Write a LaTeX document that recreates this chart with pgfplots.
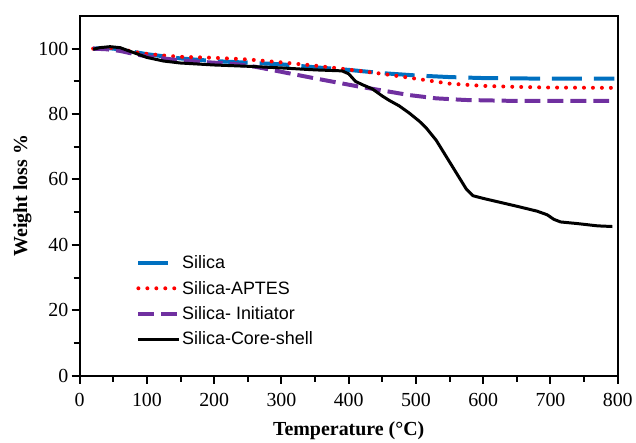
\documentclass[border=0pt]{standalone}
\usepackage{pgfplots}
\pgfplotsset{compat=1.18}
\usepackage{fontspec}
\setmainfont{Liberation Serif}
\newfontfamily\arial{Liberation Sans}
\definecolor{cblue}{HTML}{0070C0}
\definecolor{cpurple}{HTML}{7030A0}
\begin{document}
\begin{tikzpicture}
\begin{axis}[
  scale only axis, width=540pt, height=361pt,
  xmin=0, xmax=800, ymin=0, ymax=110,
  xtick={0,100,...,800}, ytick={0,20,...,100},
  minor x tick num=1, minor y tick num=1,
  tick align=outside, xtick pos=left, ytick pos=left,
  axis line style={line width=2.2pt},
  major tick style={line width=2pt, black}, minor tick style={line width=2pt, black},
  major tick length=8pt, minor tick length=6pt,
  /pgf/number format/assume math mode=true,
  tick label style={font=\fontsize{20}{23}\selectfont},
  xticklabel style={yshift=-6pt},
  label style={font=\bfseries\fontsize{20}{23}\selectfont},
  xlabel style={yshift=-8pt},
  xlabel={Temperature (°C)}, ylabel={Weight loss \%},
  legend style={draw=none, fill=none, at={(0.105,0.337)}, anchor=north west,
    font=\arial\fontsize{18}{21}\selectfont, row sep=9pt, inner sep=0pt,
    nodes={inner sep=1pt}},
  legend cell align=left,
  legend image code/.code={\draw[#1] (0pt,0pt) -- (41pt,0pt);},
]
\addplot[no marks, color=cblue, line width=4pt, dash pattern=on 30pt off 12pt] coordinates {
(20,100)(40,100.2)(60,99.8)(80,99)(100,98.3)(150,97)(200,96.2)(250,95.7)(300,95.2)(350,94.3)(400,93.5)(450,92.5)(500,91.8)(550,91.3)(600,91)(650,90.9)(700,90.8)(750,90.8)(795,90.8)};
\addlegendentry{Silica}
\addplot[no marks, color=red, line width=4pt, line cap=round, dash pattern=on 0pt off 9pt] coordinates {
(20,100)(40,100.3)(60,100)(80,99)(100,98.4)(125,97.9)(150,97.5)(200,97.2)(250,96.7)(300,95.8)(350,94.8)(400,93.6)(450,92.3)(500,90.8)(550,89.3)(600,88.6)(650,88.3)(700,88.1)(795,88)};
\addlegendentry{Silica-APTES}
\addplot[no marks, color=cpurple, line width=4pt, dash pattern=on 16pt off 7pt] coordinates {
(20,100)(40,99.8)(60,99.3)(80,98.4)(100,97.6)(150,96.4)(200,95.7)(230,95.3)(260,94.5)(300,92.9)(350,90.9)(415,88.4)(450,87.2)(490,85.8)(530,84.8)(573,84.3)(650,84)(795,84)};
\addlegendentry{Silica- Initiator}
\addplot[no marks, color=black, line width=3pt] coordinates {
(20,99.8)(30,100.3)(45,100.6)(60,100.3)(80,98.8)(100,97.3)(125,96.2)(150,95.6)(200,95.0)(250,94.6)(300,94.1)(350,93.5)(390,93.2)(400,92.3)(410,90)(420,89)(435,87.7)(450,85.5)(460,84.2)(475,82.5)(490,80.3)(505,77.8)(515,75.8)(530,72)(545,67)(560,62)(575,57)(585,55)(600,54.2)(625,53)(650,51.8)(680,50.3)(695,49.2)(705,47.8)(715,47)(740,46.5)(770,45.8)(792,45.6)};
\addlegendentry{Silica-Core-shell}
\end{axis}
\path ([xshift=-80pt,yshift=-61pt]current axis.south west) rectangle ([xshift=16pt,yshift=16pt]current axis.north east);
\end{tikzpicture}
\end{document}
